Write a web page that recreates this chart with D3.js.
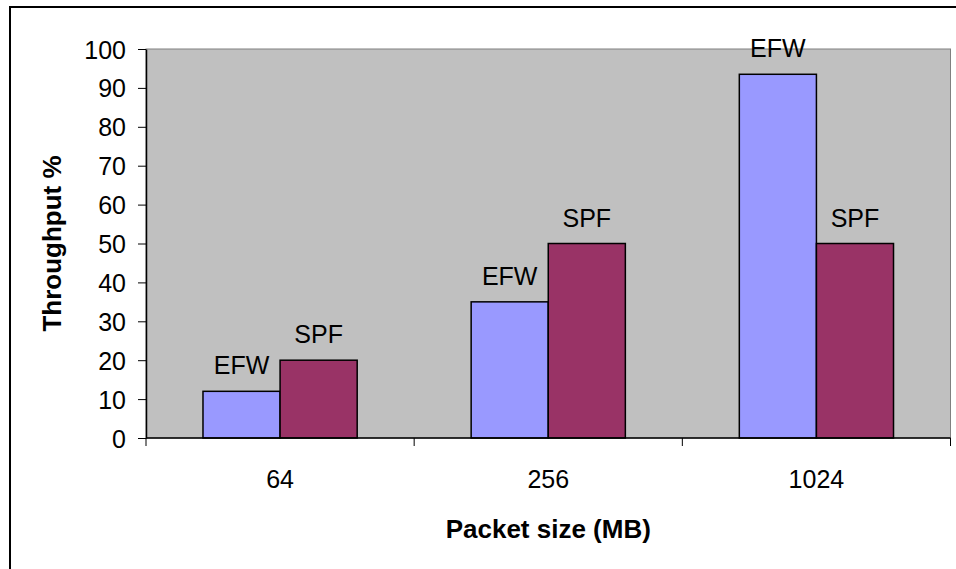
<!DOCTYPE html>
<html>
<head>
<meta charset="utf-8">
<script src="https://cdn.jsdelivr.net/npm/d3@7"></script>
<style>
  body { margin: 0; background: #fff; }
  text { font-family: "Liberation Sans", Arial, sans-serif; fill: #000; }
</style>
</head>
<body>
<svg id="chart" width="956" height="569"></svg>
<script>
var categories = ['64', '256', '1024'],
    seriesNames = ['EFW', 'SPF'],
    efw = [12, 35, 93.5],
    spf = [20, 50, 50],
    yTicks = [0, 10, 20, 30, 40, 50, 60, 70, 80, 90, 100],
    colors = ['#9999FF', '#993366'];

var svg = d3.select('#chart'),
    plot = {left: 146, right: 950.5, top: 49, bottom: 438};

// outer frame, cut off on right and bottom
svg.append('rect')
  .attr('x', 10).attr('y', 7)
  .attr('width', 1000).attr('height', 1000)
  .attr('fill', 'none')
  .attr('stroke', '#000')
  .attr('stroke-width', 2);

var x0 = d3.scaleBand()
  .domain(categories)
  .range([plot.left, plot.right])
  .paddingInner(0.425)
  .paddingOuter(0.2125);

var x1 = d3.scaleBand()
  .domain(seriesNames)
  .range([0, x0.bandwidth()]);

var y = d3.scaleLinear()
  .domain([0, 100])
  .range([plot.bottom, plot.top]);

// plot area
svg.append('rect')
  .attr('x', plot.left).attr('y', plot.top)
  .attr('width', plot.right - plot.left)
  .attr('height', plot.bottom - plot.top)
  .attr('fill', '#C0C0C0')
  .attr('stroke', '#808080')
  .attr('stroke-width', 1);

var data = categories.map((c, i) => ({
  cat: c,
  values: [{name: 'EFW', v: efw[i]}, {name: 'SPF', v: spf[i]}]
}));

var groups = svg.append('g').selectAll('g')
  .data(data)
  .join('g')
    .attr('transform', d => `translate(${x0(d.cat)}, 0)`);

groups.selectAll('rect')
  .data(d => d.values)
  .join('rect')
    .attr('x', d => x1(d.name))
    .attr('y', d => y(d.v))
    .attr('width', x1.bandwidth())
    .attr('height', d => y(0) - y(d.v))
    .attr('fill', (d, i) => colors[i])
    .attr('stroke', '#000')
    .attr('stroke-width', 1.5);

groups.selectAll('text')
  .data(d => d.values)
  .join('text')
    .attr('x', d => x1(d.name) + x1.bandwidth() / 2)
    .attr('y', d => y(d.v) - 17)
    .attr('text-anchor', 'middle')
    .attr('font-size', '25px')
    .text(d => d.name);

// y axis
var yAxis = svg.append('g')
  .attr('transform', `translate(${plot.left}, 0)`)
  .call(d3.axisLeft(y).tickValues(yTicks).tickSize(8).tickPadding(12).tickSizeOuter(0));
yAxis.select('.domain').attr('stroke', '#000').attr('stroke-width', 1.5);
yAxis.selectAll('.tick line').attr('stroke', '#000');
yAxis.selectAll('.tick text')
  .attr('font-size', '25px')
  .attr('font-family', '"Liberation Sans", Arial, sans-serif')
  .attr('dy', '0.36em');

// x axis: ticks between categories
var xAxis = svg.append('g')
  .attr('transform', `translate(0, ${plot.bottom})`);
xAxis.append('line')
  .attr('x1', plot.left).attr('x2', plot.right)
  .attr('stroke', '#000').attr('stroke-width', 1.5);
var bounds = categories.map(c => x0(c) - x0.step() * x0.paddingOuter())
  .concat([plot.right]);
xAxis.selectAll('.bound')
  .data(bounds)
  .join('line')
    .attr('class', 'bound')
    .attr('x1', d => d).attr('x2', d => d)
    .attr('y1', 0).attr('y2', 8)
    .attr('stroke', '#000');
xAxis.selectAll('.cat')
  .data(categories)
  .join('text')
    .attr('class', 'cat')
    .attr('x', d => x0(d) + x0.bandwidth() / 2)
    .attr('y', 50)
    .attr('text-anchor', 'middle')
    .attr('font-size', '25px')
    .text(d => d);

// axis titles
svg.append('text')
  .attr('x', (plot.left + plot.right) / 2)
  .attr('y', 538)
  .attr('text-anchor', 'middle')
  .attr('font-size', '26px')
  .attr('font-weight', 'bold')
  .text('Packet size (MB)');

svg.append('text')
  .attr('transform', `translate(61, ${(plot.top + plot.bottom) / 2}) rotate(-90)`)
  .attr('text-anchor', 'middle')
  .attr('font-size', '26px')
  .attr('font-weight', 'bold')
  .text('Throughput %');
</script>
</body>
</html>
